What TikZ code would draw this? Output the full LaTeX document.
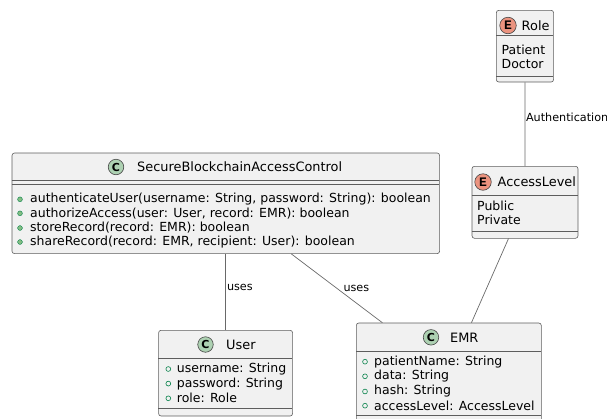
\documentclass[tikz,border=0pt]{standalone}
\usepackage{fontspec}
\setmainfont{DejaVu Sans}
\newfontfamily\emono{Liberation Mono}
\usetikzlibrary{calc}
\definecolor{boxfill}{HTML}{F1F1F1}
\definecolor{boxline}{HTML}{181818}
\definecolor{cfill}{HTML}{ADD1B2}
\definecolor{efill}{HTML}{EB937F}
\definecolor{pubgreen}{HTML}{038048}
\definecolor{pubfill}{HTML}{84BE84}
\begin{document}
\begin{tikzpicture}[x=1pt,y=-1pt,
  box/.style={draw=boxline!70, fill=boxfill, rounded corners=2.5pt, line width=0.6pt},
  div/.style={draw=boxline!70, line width=0.6pt},
  conn/.style={draw=boxline!65, line width=0.7pt},
  cname/.style={anchor=west, inner sep=0pt, font=\fontsize{12.9}{14}\selectfont},
  member/.style={anchor=west, inner sep=0pt, font=\fontsize{12.5}{14}\selectfont},
  lbl/.style={anchor=west, inner sep=0pt, font=\fontsize{11.2}{12}\selectfont},
  ccirc/.style={circle, draw=boxline!80, fill=cfill, line width=0.6pt, minimum size=15.5pt, inner sep=0pt, font=\bfseries\fontsize{11}{11}\selectfont},
  ecirc/.style={circle, draw=boxline!80, fill=efill, line width=0.6pt, minimum size=16.5pt, inner sep=0pt, font=\emono\bfseries\fontsize{13}{11}\selectfont},
  meth/.style={circle, fill=pubfill, draw=pubgreen, line width=0.4pt, minimum size=4.8pt, inner sep=0pt},
  fld/.style={circle, draw=pubgreen, line width=0.6pt, minimum size=4.8pt, inner sep=0pt}
]
\useasboundingbox (0,0) rectangle (607,418);
\clip (0,0) rectangle (607,418);

% ---- SecureBlockchainAccessControl
\node[box, anchor=north west, minimum width=427.6pt, minimum height=100.6pt, inner sep=0pt] (sbac) at (11.7,152.7) {};
\draw[div] (11.7,180.7) -- (439.3,180.7);
\draw[div] (11.7,184.3) -- (439.3,184.3);
\node[ccirc] (sbacc) at (116,167) {C};
\node[cname] (sbacn) at (137,167) {SecureBlockchainAccessControl};
\node[meth] (m1) at (20,199.3) {};
\node[member] (m1t) at (30,199.3) {authenticateUser(username: String, password: String): boolean};
\node[meth] (m2) at (20,213.3) {};
\node[member] (m2t) at (30,213.3) {authorizeAccess(user: User, record: EMR): boolean};
\node[meth] (m3) at (20,228) {};
\node[member] (m3t) at (30,228) {storeRecord(record: EMR): boolean};
\node[meth] (m4) at (20,242) {};
\node[member] (m4t) at (30,242) {shareRecord(record: EMR, recipient: User): boolean};

% ---- User
\node[box, anchor=north west, minimum width=134pt, minimum height=85.7pt, inner sep=0pt] (user) at (158.3,330) {};
\draw[div] (158.3,358.3) -- (292.3,358.3);
\draw[div] (158.3,408.3) -- (292.3,408.3);
\node[ccirc] (userc) at (205.5,344.5) {C};
\node[cname] (usern) at (226,344.5) {User};
\node[fld] (u1) at (168.3,369) {};
\node[member] (u1t) at (176.7,369) {username: String};
\node[fld] (u2) at (168.3,383.6) {};
\node[member] (u2t) at (176.7,383.6) {password: String};
\node[fld] (u3) at (168.3,398.3) {};
\node[member] (u3t) at (176.7,398.3) {role: Role};

% ---- EMR
\node[box, anchor=north west, minimum width=185pt, minimum height=100pt, inner sep=0pt] (emr) at (356,322.7) {};
\draw[div] (356,351) -- (541,351);
\draw[div] (356,415) -- (541,415);
\node[ccirc] (emrc) at (431,337.3) {C};
\node[cname] (emrn) at (450,337.3) {EMR};
\node[fld] (e1) at (365,361.7) {};
\node[member] (e1t) at (374,361.7) {patientName: String};
\node[fld] (e2) at (365,376.3) {};
\node[member] (e2t) at (374,376.3) {data: String};
\node[fld] (e3) at (365,391.5) {};
\node[member] (e3t) at (374,391.5) {hash: String};
\node[fld] (e4) at (365,405.7) {};
\node[member] (e4t) at (374,405.7) {accessLevel: AccessLevel};

% ---- Role
\node[box, anchor=north west, minimum width=57.3pt, minimum height=71.7pt, inner sep=0pt] (role) at (496,10) {};
\draw[div] (496,35) -- (553.3,35);
\draw[div] (496,76) -- (553.3,76);
\node[ecirc] (rolec) at (508,25.5) {E};
\node[cname] (rolen) at (521.5,25.2) {Role};
\node[member] (r1) at (501.5,50) {Patient};
\node[member] (r2) at (501.5,63.8) {Doctor};

% ---- AccessLevel
\node[box, anchor=north west, minimum width=106pt, minimum height=72pt, inner sep=0pt] (acc) at (471.7,166) {};
\draw[div] (471.7,195.7) -- (577.7,195.7);
\draw[div] (471.7,231.7) -- (577.7,231.7);
\node[ecirc] (accc) at (483,182) {E};
\node[cname] (accn) at (497.5,181.5) {AccessLevel};
\node[member] (a1) at (477,205.7) {Public};
\node[member] (a2) at (477,220) {Private};

% ---- connectors
\draw[conn] (role.south) -- (acc.north);
\node[lbl] (authl) at (525.8,117.3) {Authentication};
\draw[conn] (user.north) -- (user.north |- sbac.south);
\node[lbl] (uses1) at (226.8,287.7) {uses};
\draw[conn] ($(sbac.south west)!0.653!(sbac.south east)$) -- ($(emr.north west)!0.142!(emr.north east)$);
\node[lbl] (uses2) at (343.3,288) {uses};
\draw[conn] ($(acc.south west)!0.345!(acc.south east)$) -- ($(emr.north west)!0.622!(emr.north east)$);
\end{tikzpicture}
\end{document}
